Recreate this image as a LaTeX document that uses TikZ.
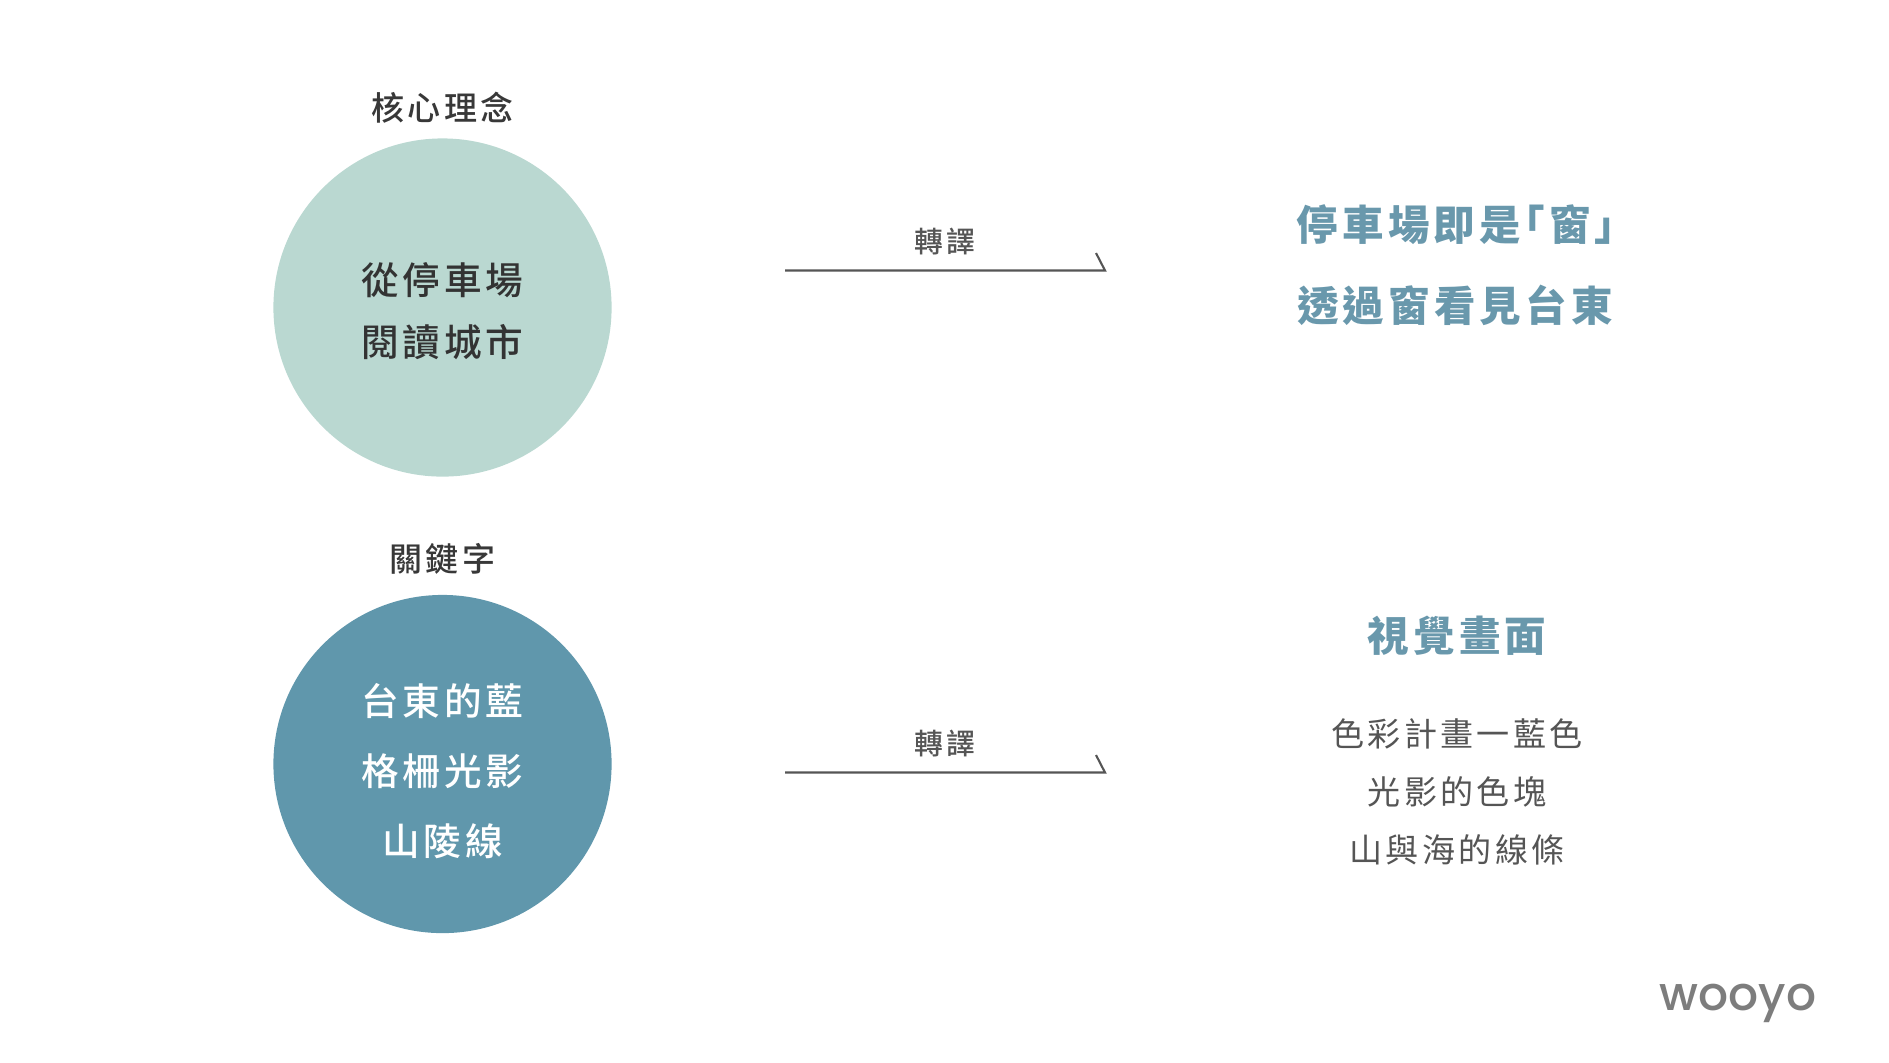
\documentclass[tikz,border=0pt]{standalone}
\usepackage{fontspec}
\usepackage{xcolor}
\usetikzlibrary{positioning}
\setmainfont[LetterSpace=10]{Noto Sans CJK TC}
\newfontfamily\mediumfont[LetterSpace=10]{Noto Sans CJK TC Medium}
\newfontfamily\logofont{Poppins Medium}
\definecolor{wooyoMint}{RGB}{186,216,209}
\definecolor{wooyoTeal}{RGB}{96,151,172}
\definecolor{wooyoTitle}{RGB}{105,152,172}
\definecolor{wooyoGray}{RGB}{85,85,85}
\definecolor{wooyoLogo}{RGB}{125,125,125}

\begin{document}
\begin{tikzpicture}[
  x=0.01cm, y=-0.01cm,
  disc/.style={circle, minimum size=3.38cm, inner sep=0pt},
  discText/.style={align=center, inner sep=0pt},
  heading/.style={font=\mediumfont\fontsize{9.4}{10}\selectfont, text=black!78, inner sep=0pt},
  translate/.style={font=\mediumfont\fontsize{8.2}{9}\selectfont, text=wooyoGray, inner sep=0pt},
  flow/.style={draw=wooyoGray, line width=0.6pt, miter limit=10},
  title/.style={font=\fontsize{11.8}{23}\selectfont\bfseries, text=wooyoTitle, align=center, inner sep=0pt},
  detail/.style={font=\fontsize{9.4}{16.6}\selectfont, text=wooyoGray, align=center, inner sep=0pt}
]
  \useasboundingbox (0,0) rectangle (1889,1062);

  \node[disc, fill=wooyoMint] (core) at (442.5,307.5) {};
  \node[discText, text=black!80, font=\mediumfont\fontsize{10.7}{17.5}\selectfont] (coreText) at (442.5,311) {從停車場\\閱讀城市};
  \node[heading, above=0.14cm of core] (coreHead) {核心理念};
  \node[disc, fill=wooyoTeal] (keys) at (442.5,764) {};
  \node[discText, text=white, font=\mediumfont\fontsize{10.7}{19.9}\selectfont] (keysText) at (442.5,771) {台東的藍\\格柵光影\\山陵線};
  \node[heading, above=0.19cm of keys] (keysHead) {關鍵字};

  % translate arrows
  \coordinate (topFrom) at (785,270.5);
  \coordinate (topTo)   at (1105,270.5);
  \coordinate (topBarb) at (1096,253);
  \coordinate (lowFrom) at (785,772.5);
  \coordinate (lowTo)   at (1105,772.5);
  \coordinate (lowBarb) at (1096,755);
  \draw[flow] (topFrom) -- (topTo) -- (topBarb);
  \draw[flow] (lowFrom) -- (lowTo) -- (lowBarb);
  \node[translate] (topLabel) at (945,241) {轉譯};
  \node[translate] (lowLabel) at (945,743) {轉譯};

  \node[title] (concept) at (1455,265)
    {停車場即是\kern-0.42em「窗」\kern-0.56em\\透過窗看見台東};
  \node[title] (visual) at (1457,636) {視覺畫面};
  \node[detail, below=0.61cm of visual] (visualList)
    {色彩計畫一藍色\\光影的色塊\\山與海的線條};

  \node[font=\logofont\fontsize{13.4}{16}\selectfont, text=wooyoLogo, inner sep=0pt] (logo) at (1738,1003) {wooyo};
\end{tikzpicture}
\end{document}
